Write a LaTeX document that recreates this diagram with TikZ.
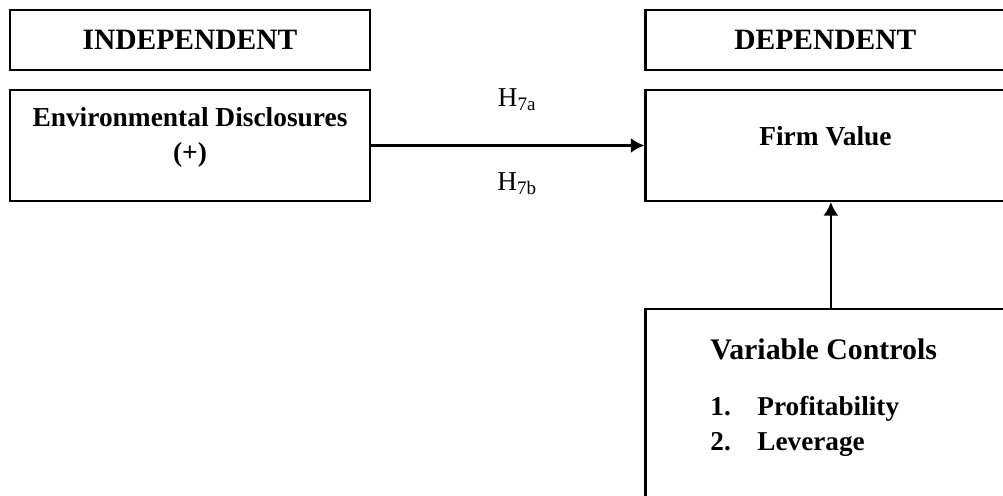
\documentclass[tikz,border=0pt]{standalone}
\usepackage{fontspec}
\setmainfont{Liberation Serif}
\usetikzlibrary{arrows.meta,positioning}

\begin{document}
\begin{tikzpicture}[x = 0.02cm, y = -0.02cm, -{Latex[length = 0.27cm, width = 0.3cm]}, line width = 0.045cm, on grid, box/.style = {draw, -, minimum width = 7.2cm, align = center, font = \bfseries\fontsize{15.6}{19.9}\selectfont}, head/.style = {box, minimum height = 1.2cm, font = \bfseries\fontsize{16.8}{19}\selectfont}, lbl/.style = {font = \fontsize{15.5}{18}\selectfont}]
\useasboundingbox (0,0) rectangle (1003,495);
\clip (0,0) rectangle (1003,495);

\node[head] (indep) at (190,40) {INDEPENDENT};
\node[box, minimum height = 2.22cm, text depth = 0.44cm, below = 2.11cm of indep] (envdisc) {Environmental Disclosures\\(+)};
\node[head, right = 12.71cm of indep] (dep) {DEPENDENT};
\node[box, minimum height = 2.22cm, text depth = 0.36cm, right = 12.71cm of envdisc] (firmval) {Firm Value};
\node[box, minimum height = 4.4cm, below = 5.47cm of firmval] (ctrl) {};
\node[anchor = north west, inner sep = 0pt, align = left, font = \bfseries\fontsize{15.5}{19.9}\selectfont] (ctrltxt) at ([xshift = 1.3cm, yshift = -0.6cm]ctrl.north west) {{\fontsize{17}{20}\selectfont Variable Controls}\\[12pt]\makebox[0.94cm][l]{1.}Profitability\\\makebox[0.94cm][l]{2.}Leverage};

\draw (envdisc) -- (firmval) node[lbl, pos = 0.535, yshift = 0.92cm] {H\textsubscript{7a}} node[lbl, pos = 0.535, yshift = -0.76cm] {H\textsubscript{7b}};
\draw ([xshift = 0.11cm]ctrl.north) -- ([xshift = 0.11cm]firmval.south);
\end{tikzpicture}
\end{document}
